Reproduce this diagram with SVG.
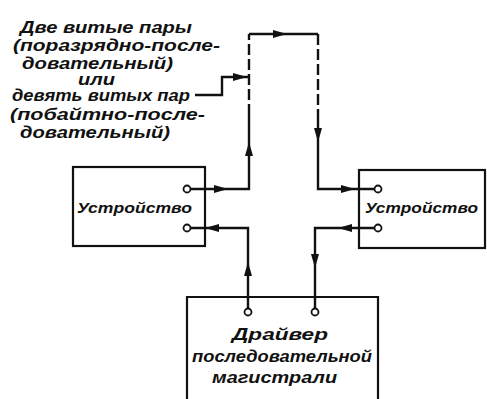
<svg xmlns="http://www.w3.org/2000/svg" xmlns:xlink="http://www.w3.org/1999/xlink" width="487" height="399" viewBox="0 0 487 399">
<style>
.box{fill:none;stroke:#111;stroke-width:2.2}
.ln{fill:none;stroke:#111;stroke-width:2.4}
.dash{fill:none;stroke:#111;stroke-width:2.4;stroke-dasharray:11 4}
.pin{fill:#fff;stroke:#111;stroke-width:1.8}
.t{font-family:"Liberation Sans",Arial,sans-serif;font-style:italic;font-weight:bold;font-size:16px;fill:#111}
.td{font-family:"Liberation Sans",Arial,sans-serif;font-style:italic;font-weight:bold;font-size:15px;fill:#111}
</style>
<defs>
<path id="ah" d="M0,0 L-14,-4 L-14,4 Z" fill="#111"/>
</defs>
<rect width="487" height="399" fill="#fff"/>
<g id="label">
<text class="t" x="20" y="33" textLength="172" lengthAdjust="spacingAndGlyphs">Две витые пары</text>
<text class="t" x="13" y="51" textLength="207" lengthAdjust="spacingAndGlyphs">(поразрядно-после-</text>
<text class="t" x="22" y="69" textLength="151" lengthAdjust="spacingAndGlyphs">довательный)</text>
<text class="t" x="78" y="85" textLength="37" lengthAdjust="spacingAndGlyphs">или</text>
<text class="t" x="12" y="101" textLength="178" lengthAdjust="spacingAndGlyphs">девять витых пар</text>
<text class="t" x="10" y="120" textLength="195" lengthAdjust="spacingAndGlyphs">(побайтно-после-</text>
<text class="t" x="20" y="138" textLength="150" lengthAdjust="spacingAndGlyphs">довательный)</text>
</g>
<g id="device-left">
<rect class="box" x="73" y="167" width="132" height="79"/>
<circle class="pin" cx="187" cy="189" r="3.5"/>
<circle class="pin" cx="187" cy="228" r="3.5"/>
<text class="td" x="77" y="213" textLength="115" lengthAdjust="spacingAndGlyphs">Устройство</text>
</g>
<g id="device-right">
<rect class="box" x="359" y="170" width="126" height="78"/>
<circle class="pin" cx="378" cy="189" r="3.5"/>
<circle class="pin" cx="378" cy="228" r="3.5"/>
<text class="td" x="365" y="213" textLength="113" lengthAdjust="spacingAndGlyphs">Устройство</text>
</g>
<g id="driver">
<path class="box" d="M187,400 V297 H378 V400"/>
<circle class="pin" cx="248" cy="312" r="3.5"/>
<circle class="pin" cx="315" cy="312" r="3.5"/>
<text class="t" x="232" y="340" textLength="96" lengthAdjust="spacingAndGlyphs">Драйвер</text>
<text class="t" x="192" y="362" textLength="180" lengthAdjust="spacingAndGlyphs">последовательной</text>
<text class="t" x="212" y="383" textLength="125" lengthAdjust="spacingAndGlyphs">магистрали</text>
</g>
<g id="connectors">
<path class="ln" d="M195,95 H222 V77 H249"/>
<path class="dash" d="M249,115 V34"/>
<path class="ln" d="M249,34 H318"/>
<path class="dash" d="M318,34 V110"/>
<path class="ln" d="M249,115 V189 H190.5"/>
<path class="ln" d="M318,110 V189 H374.5"/>
<path class="ln" d="M190.5,228 H248 V308.5"/>
<path class="ln" d="M374.5,228 H315 V308.5"/>
<use xlink:href="#ah" transform="translate(247,77)"/>
<use xlink:href="#ah" transform="translate(287,34)"/>
<use xlink:href="#ah" transform="translate(318,142) rotate(90)"/>
<use xlink:href="#ah" transform="translate(249,142) rotate(-90)"/>
<use xlink:href="#ah" transform="translate(228,189)"/>
<use xlink:href="#ah" transform="translate(355,189)"/>
<use xlink:href="#ah" transform="translate(205,228) rotate(180)"/>
<use xlink:href="#ah" transform="translate(338,228) rotate(180)"/>
<use xlink:href="#ah" transform="translate(248,262) rotate(-90)"/>
<use xlink:href="#ah" transform="translate(315,268) rotate(90)"/>
</g>
</svg>
